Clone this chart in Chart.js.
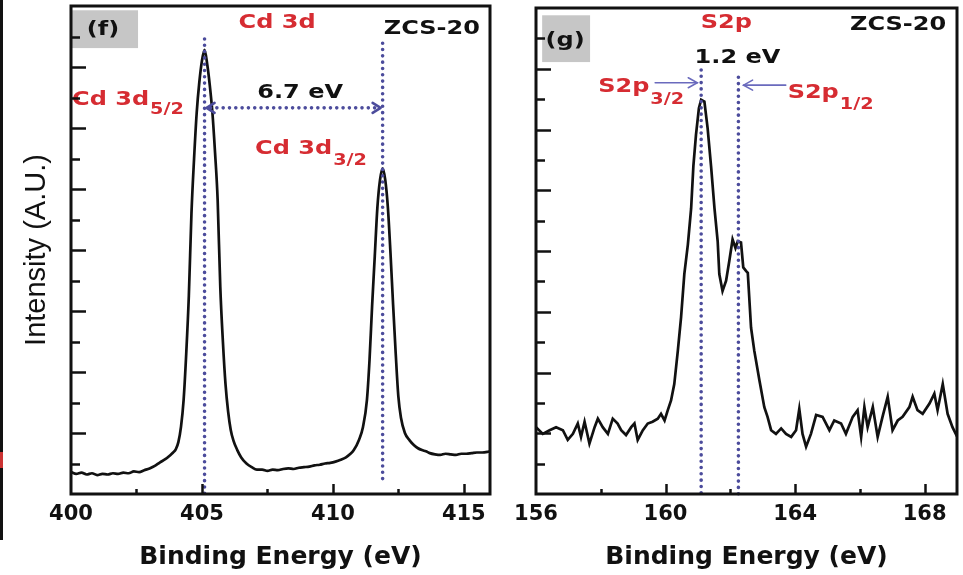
<!DOCTYPE html>
<html><head><meta charset="utf-8">
<script src="https://cdn.jsdelivr.net/npm/chart.js@4.4.1/dist/chart.umd.min.js"></script>
<style>
html,body{margin:0;padding:0;background:#fff;}
body{width:963px;height:575px;position:relative;overflow:hidden;}
#w1{position:absolute;left:0;top:0;width:500px;height:575px;}
#w2{position:absolute;left:500px;top:0;width:463px;height:575px;}
#edge{position:absolute;left:0;top:0;width:3px;height:540px;background:#111;}
#edgeRed{position:absolute;left:0;top:452px;width:3px;height:16px;background:#c33;}
</style></head><body>
<div id="w1"><canvas id="c1"></canvas></div>
<div id="w2"><canvas id="c2"></canvas></div>
<div id="edge"></div><div id="edgeRed"></div>
<script>
// ---- Data: Cd 3d panel (f) ----
const cdEnergy = [400.0,400.2,400.4,400.6,400.8,401.0,401.2,401.4,401.6,401.8,
  402.0,402.2,402.4,402.6,402.8,403.0,403.2,403.4,403.6,403.8,
  403.9,404.0,404.1,404.2,404.3,404.4,404.5,404.6,404.7,404.8,
  404.9,405.0,405.1,405.2,405.3,405.4,405.5,405.6,405.7,405.8,
  405.9,406.0,406.1,406.2,406.35,406.5,406.7,406.9,407.1,407.3,
  407.5,407.7,407.9,408.1,408.3,408.5,408.7,408.9,409.1,409.3,
  409.5,409.7,409.9,410.1,410.3,410.5,410.65,410.8,411.0,411.15,
  411.3,411.4,411.5,411.6,411.7,411.8,411.9,412.0,412.1,412.2,
  412.3,412.4,412.5,412.6,412.75,412.93,413.1,413.25,413.4,413.55,
  413.7,413.9,414.1,414.3,414.5,414.7,414.9,415.1,415.3,415.5,
  415.7,415.9,416.0];
const cdIntensity = [0.36,0.33,0.35,0.32,0.34,0.31,0.33,0.32,0.34,0.33,
  0.35,0.34,0.37,0.36,0.39,0.42,0.46,0.52,0.57,0.64,
  0.68,0.73,0.85,1.1,1.54,2.3,3.25,4.6,5.5,6.25,
  6.75,7.1,7.28,7.05,6.7,6.25,5.6,4.82,3.4,2.5,
  1.8,1.35,1.05,0.88,0.72,0.6,0.5,0.44,0.40,0.40,
  0.38,0.40,0.39,0.41,0.42,0.41,0.43,0.44,0.45,0.47,
  0.48,0.50,0.51,0.53,0.56,0.60,0.65,0.72,0.89,1.1,
  1.54,2.2,3.1,3.9,4.7,5.15,5.34,5.15,4.7,3.95,
  3.1,2.3,1.6,1.25,1.0,0.88,0.8,0.75,0.72,0.70,
  0.67,0.65,0.64,0.66,0.65,0.64,0.66,0.66,0.67,0.68,
  0.68,0.69,0.70];
// ---- Data: S 2p panel (g) ----
const sEnergy = [156.0,156.21,156.42,156.62,156.83,156.98,157.14,157.29,157.39,157.5,157.65,157.81,157.91,158.06,158.22,158.37,158.52,158.63,158.78,158.94,159.04,159.14,159.3,159.45,159.6,159.76,159.86,159.97,160.07,160.17,160.27,160.38,160.48,160.58,160.69,160.79,160.86,160.94,161.03,161.1,161.2,161.3,161.41,161.51,161.61,161.66,161.76,161.87,161.97,162.07,162.16,162.23,162.33,162.4,162.49,162.54,162.57,162.64,162.74,162.9,163.05,163.15,163.26,163.41,163.57,163.72,163.88,164.03,164.13,164.23,164.34,164.49,164.65,164.85,165.06,165.21,165.42,165.57,165.78,165.93,166.04,166.14,166.24,166.4,166.55,166.7,166.86,167.01,167.17,167.32,167.53,167.63,167.78,167.94,168.15,168.3,168.4,168.56,168.71,168.86,169.0];
const sIntensity = [1.10,0.99,1.05,1.10,1.05,0.89,0.99,1.16,0.94,1.19,0.83,1.10,1.24,1.10,0.99,1.24,1.16,1.05,0.97,1.10,1.16,0.89,1.05,1.16,1.19,1.24,1.32,1.21,1.38,1.54,1.81,2.36,2.91,3.62,4.11,4.7,5.4,5.91,6.35,6.49,6.46,6.02,5.37,4.71,4.16,3.62,3.34,3.51,3.84,4.19,4.05,4.16,4.14,3.73,3.67,3.64,3.37,2.74,2.36,1.87,1.43,1.27,1.05,0.99,1.08,0.99,0.94,1.05,1.40,0.99,0.78,0.99,1.30,1.27,1.05,1.21,1.16,0.99,1.27,1.38,0.94,1.43,1.10,1.43,0.94,1.27,1.60,1.05,1.21,1.27,1.43,1.60,1.38,1.32,1.49,1.65,1.38,1.81,1.32,1.10,0.95];
// ---- Tick labels and peak positions ----
const cdTickLabels = [400,405,410,415];
const sTickLabels = [156,160,164,168];
const cdPeaks = [405.1, 411.9];
const sPeaks = [161.1, 162.25];

const RED = 'rgb(214,44,50)';
const DOT = '#4c4c9c';
const ARROW = '#6a6abd';
const FONT = '"DejaVu Sans", sans-serif';

function drawText(ctx, str, px, py, size, color, align, sx) {
  ctx.save();
  ctx.font = 'bold ' + size + 'px ' + FONT;
  const w = ctx.measureText(str).width * sx;
  const left = align === 'center' ? px - w / 2 : (align === 'right' ? px - w : px);
  ctx.translate(left, py);
  ctx.scale(sx, 1);
  ctx.fillStyle = color;
  ctx.textAlign = 'left';
  ctx.textBaseline = 'middle';
  ctx.fillText(str, 0, 0);
  ctx.restore();
  return left + w;
}

function makePlugin(cfg) {
  return {
    id: 'annot',
    afterDatasetsDraw(chart) {
      const ctx = chart.ctx, X = chart.scales.x, Y = chart.scales.y;
      const px = v => X.getPixelForValue(v), py = v => Y.getPixelForValue(v);
      ctx.save();
      cfg.boxes.forEach(b => {
        ctx.fillStyle = '#c6c6c6';
        ctx.fillRect(px(b.x0), py(b.y1), px(b.x1) - px(b.x0), py(b.y0) - py(b.y1));
      });
      ctx.strokeStyle = DOT; ctx.lineWidth = 3.6; ctx.lineCap = 'round';
      ctx.setLineDash([0.01, 6.3]);
      cfg.vlines.forEach(l => {
        ctx.beginPath(); ctx.moveTo(px(l.x), py(l.y1)); ctx.lineTo(px(l.x), py(l.y0)); ctx.stroke();
      });
      if (cfg.harrow) {
        const h = cfg.harrow, x0 = px(h.x0), x1 = px(h.x1), yy = py(h.y);
        ctx.beginPath(); ctx.moveTo(x0 + 6, yy); ctx.lineTo(x1 - 6, yy); ctx.stroke();
        ctx.setLineDash([]); ctx.lineWidth = 2.6; ctx.lineCap = 'round'; ctx.lineJoin = 'round';
        ctx.beginPath(); ctx.moveTo(x0 + 10, yy - 5); ctx.lineTo(x0 + 2, yy); ctx.lineTo(x0 + 10, yy + 5); ctx.stroke();
        ctx.beginPath(); ctx.moveTo(x1 - 10, yy - 5); ctx.lineTo(x1 - 2, yy); ctx.lineTo(x1 - 10, yy + 5); ctx.stroke();
      }
      ctx.setLineDash([]);
      (cfg.arrows || []).forEach(a => {
        const x0 = px(a.x0), x1 = px(a.x1), yy = py(a.y), d = x1 > x0 ? 1 : -1;
        ctx.strokeStyle = ARROW; ctx.lineWidth = 1.6; ctx.lineCap = 'round';
        ctx.beginPath(); ctx.moveTo(x0, yy); ctx.lineTo(x1, yy); ctx.stroke();
        ctx.beginPath(); ctx.moveTo(x1 - d * 9, yy - 5); ctx.lineTo(x1, yy); ctx.lineTo(x1 - d * 9, yy + 5); ctx.stroke();
      });
      cfg.texts.forEach(t => drawText(ctx, t.t, px(t.x), py(t.y), 20, t.c, 'center', 1.2));
      cfg.subs.forEach(s => {
        const end = drawText(ctx, s.t, px(s.x), py(s.y), 20, RED, 'left', 1.2);
        drawText(ctx, s.s, end + 1, py(s.sy), 16, RED, 'left', 1.2);
      });
      ctx.restore();
    },
    afterDraw(chart) {
      const ctx = chart.ctx, a = chart.chartArea, X = chart.scales.x, Y = chart.scales.y;
      ctx.save();
      ctx.strokeStyle = '#111'; ctx.lineWidth = 2.5; ctx.lineCap = 'butt';
      Y.ticks.forEach(t => {
        if (t.value <= Y.min || t.value >= Y.max) return;
        const yy = Math.round(Y.getPixelForValue(t.value)) + 0.5;
        const len = Number.isInteger(t.value) ? 15 : 9;
        ctx.beginPath(); ctx.moveTo(a.left, yy); ctx.lineTo(a.left + len, yy); ctx.stroke();
      });
      X.ticks.forEach(t => {
        if (t.value <= X.min || t.value >= X.max) return;
        const xx = Math.round(X.getPixelForValue(t.value)) + 0.5;
        const len = cfg.labels.includes(t.value) ? 10 : 5;
        ctx.beginPath(); ctx.moveTo(xx, a.bottom); ctx.lineTo(xx, a.bottom - len); ctx.stroke();
      });
      ctx.lineWidth = 3;
      ctx.strokeRect(a.left, a.top, a.right - a.left, a.bottom - a.top);
      ctx.restore();
    }
  };
}

function makeChart(id, energy, intensity, opt) {
  const pts = energy.map((e, i) => ({ x: e, y: intensity[i] }));
  return new Chart(document.getElementById(id), {
    type: 'line',
    data: { datasets: [{ data: pts, borderColor: '#111', borderWidth: 2.7, pointRadius: 0, fill: false,
      tension: 0, cubicInterpolationMode: opt.smooth ? 'monotone' : 'default' }] },
    options: {
      responsive: true, maintainAspectRatio: false, animation: false, devicePixelRatio: 1,
      layout: { padding: { top: opt.top, right: opt.right, left: 0, bottom: 0 } },
      plugins: { legend: { display: false }, tooltip: { enabled: false } },
      scales: {
        x: {
          type: 'linear', min: opt.xmin, max: opt.xmax,
          border: { display: false },
          grid: { display: false, drawTicks: false },
          ticks: { stepSize: opt.step, includeBounds: false, autoSkip: false, maxRotation: 0, padding: 8,
            color: '#111', font: { family: FONT, weight: 'bold', size: 21 },
            callback: v => opt.labels.includes(v) ? String(v) : '' },
          title: { display: true, text: 'Binding Energy (eV)', color: '#111',
            font: { family: FONT, weight: 'bold', size: 25 }, padding: { top: 0, bottom: 3 } },
          afterFit: s => { s.height = 81; }
        },
        y: {
          min: 0, max: 8,
          border: { display: false },
          grid: { display: false, drawTicks: false },
          ticks: { display: false, stepSize: 0.5 },
          title: { display: !!opt.ytitle, text: opt.ytitle || '', color: '#111',
            font: { family: '"Liberation Sans", Arial, sans-serif', weight: 'normal', size: 29 }, padding: { top: 20, bottom: 0 } },
          afterFit: s => { s.width = opt.yw; }
        }
      }
    },
    plugins: [makePlugin(opt.annot)]
  });
}

makeChart('c1', cdEnergy, cdIntensity, {
  xmin: 400, xmax: 416, step: 2.5, labels: cdTickLabels, top: 6, right: 10, yw: 71, smooth: true,
  ytitle: 'Intensity (A.U.)',
  annot: {
    labels: cdTickLabels,
    boxes: [{ x0: 400.04, x1: 402.56, y0: 7.31, y1: 7.93 }],
    vlines: [{ x: cdPeaks[0], y0: 0, y1: 7.46 }, { x: cdPeaks[1], y0: 0.15, y1: 7.39 }],
    harrow: { x0: cdPeaks[0], x1: cdPeaks[1], y: 6.33 },
    texts: [
      { t: '(f)', x: 401.22, y: 7.61, c: '#111' },
      { t: 'Cd 3d', x: 407.87, y: 7.72, c: RED },
      { t: 'ZCS-20', x: 413.78, y: 7.63, c: '#111' },
      { t: '6.7 eV', x: 408.75, y: 6.57, c: '#111' }
    ],
    subs: [
      { t: 'Cd 3d', s: '5/2', x: 400.04, y: 6.47, sy: 6.30 },
      { t: 'Cd 3d', s: '3/2', x: 407.03, y: 5.66, sy: 5.46 }
    ]
  }
});

makeChart('c2', sEnergy, sIntensity, {
  xmin: 156, xmax: 169, step: 2, labels: sTickLabels, top: 8, right: 6, yw: 36, smooth: false,
  ytitle: '',
  annot: {
    labels: sTickLabels,
    boxes: [{ x0: 156.19, x1: 157.67, y0: 7.11, y1: 7.88 }],
    vlines: [{ x: sPeaks[0], y0: 0, y1: 6.98 }, { x: sPeaks[1], y0: 0, y1: 6.86 }],
    arrows: [{ x0: 159.68, x1: 160.98, y: 6.77 }, { x0: 163.71, x1: 162.41, y: 6.73 }],
    texts: [
      { t: '(g)', x: 156.90, y: 7.46, c: '#111' },
      { t: 'S2p', x: 161.88, y: 7.75, c: RED },
      { t: 'ZCS-20', x: 167.18, y: 7.72, c: '#111' },
      { t: '1.2 eV', x: 162.22, y: 7.18, c: '#111' }
    ],
    subs: [
      { t: 'S2p', s: '3/2', x: 157.92, y: 6.70, sy: 6.49 },
      { t: 'S2p', s: '1/2', x: 163.77, y: 6.60, sy: 6.40 }
    ]
  }
});
</script>
</body></html>
